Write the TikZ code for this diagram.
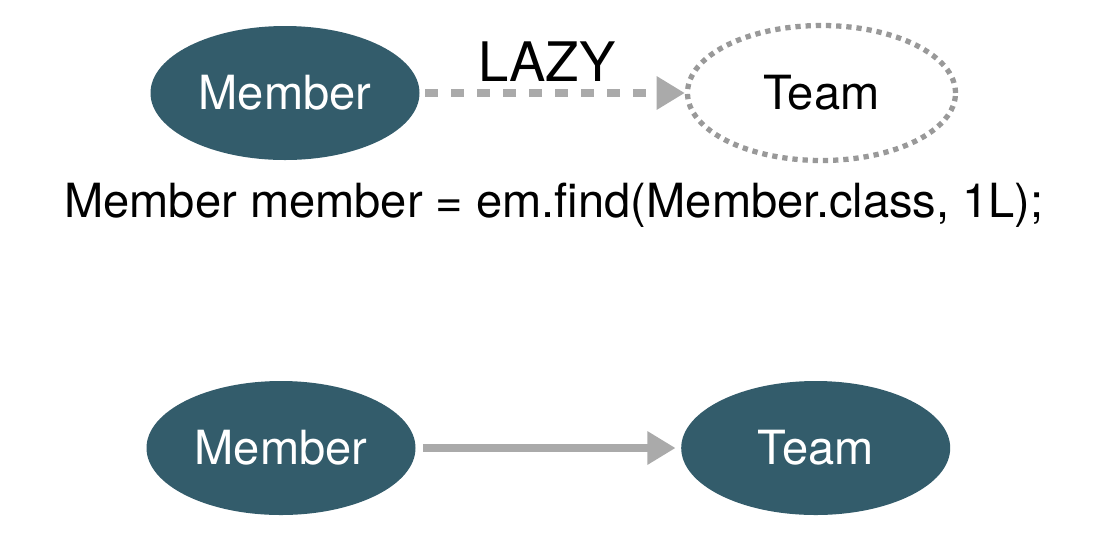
\documentclass[tikz,border=0pt]{standalone}
\usepackage{fontspec}
\setmainfont{TeX Gyre Heros}
\usetikzlibrary{arrows.meta, positioning, shapes.geometric}
\definecolor{teal}{HTML}{335C6B}
\definecolor{linegray}{HTML}{AAAAAA}
\definecolor{dotgray}{HTML}{999999}
\begin{document}
\begin{tikzpicture}
    \tikzstyle{entity}=[ellipse, fill=teal, text=white, minimum width=5.38cm, minimum height=2.68cm, inner sep=0pt, font=\fontsize{26.8}{30}\selectfont]
    \tikzstyle{lazyentity}=[ellipse, draw=dotgray, line width=3pt, dash pattern=on 3pt off 2.8pt, minimum width=5.36cm, minimum height=2.7cm, inner sep=0pt, font=\fontsize{26.8}{30}\selectfont]
    \tikzstyle{link}=[draw=linegray, line width=4.5pt, -{Triangle[length=16pt, width=18pt, fill=linegray]}]

    \useasboundingbox (0, 0) rectangle (22.26, -10.7);

    % Lazy loading
    \node[entity] (lazy_member) at (5.70, -1.86) {Member};
    \node[lazyentity, right=5.3cm of lazy_member] (lazy_team) {Team};
    \draw[link, dash pattern=on 7.4pt off 7.4pt, shorten <=3pt] (lazy_member.east) -- (lazy_team.west);
    \node[font=\fontsize{31}{34}\selectfont] (lazy_label) at (10.94, -1.24) {LAZY};

    % Find call
    \node[font=\fontsize{26.8}{30}\selectfont] (find_call) at (11.08, -4.10) {Member member = em.find(Member.class, 1L);};

    % Eager loading
    \node[entity] (eager_member) at (5.62, -8.96) {Member};
    \node[entity, right=5.3cm of eager_member] (eager_team) {Team};
    \draw[link, shorten <=4pt, shorten >=3pt] (eager_member.east) -- (eager_team.west);
\end{tikzpicture}
\end{document}
